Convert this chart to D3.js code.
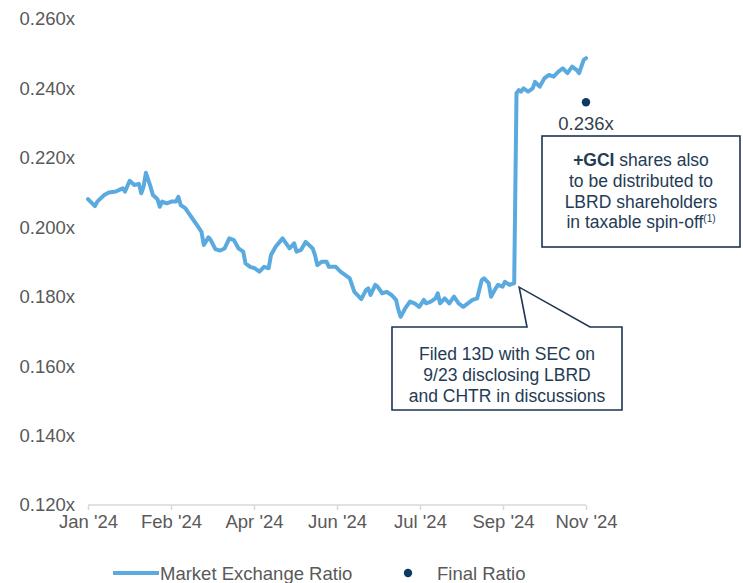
<!DOCTYPE html>
<html>
<head>
<meta charset="utf-8">
<script src="https://cdn.jsdelivr.net/npm/d3@7"></script>
<style>
  html, body { margin: 0; padding: 0; background: #fff; }
  svg { display: block; font-family: "Liberation Sans", Arial, sans-serif; }
</style>
</head>
<body>
<svg id="chart" width="743" height="583"></svg>
<script>
// ---- data (trading-day index from Jan 2, 2024 and market exchange ratio) ----
const dayIndex = [0,3,4,7,9,12,14,15,16,18,20,22,23,24,25,27,28,30,31,32,34,36,38,39,40,42,43,45,47,49,50,52,53,55,57,59,61,63,65,67,68,70,72,74,76,78,79,81,84,86,87,89,90,92,94,97,98,99,101,103,104,107,109,112,113,115,117,118,120,121,122,124,125,127,129,131,133,134,135,137,139,141,143,145,146,148,150,151,152,154,156,158,160,162,164,166,168,170,171,173,174,176,177,179,180,182,184,185,186,187,188,190,192,193,195,197,199,201,203,205,207,209,211,212,214,215];
const ratio = [0.2081,0.2061,0.2074,0.2093,0.2100,0.2103,0.2109,0.2112,0.2103,0.2134,0.2122,0.2125,0.2098,0.2117,0.2157,0.2117,0.2093,0.2081,0.2059,0.2074,0.2069,0.2074,0.2074,0.2088,0.2064,0.2055,0.2045,0.2026,0.2007,0.1987,0.1949,0.1971,0.1963,0.1937,0.1933,0.1939,0.1968,0.1963,0.1939,0.1930,0.1896,0.1886,0.1882,0.1872,0.1886,0.1882,0.1920,0.1944,0.1968,0.1949,0.1939,0.1954,0.1930,0.1935,0.1958,0.1939,0.1920,0.1891,0.1901,0.1901,0.1886,0.1886,0.1872,0.1858,0.1853,0.1814,0.1800,0.1793,0.1819,0.1824,0.1805,0.1834,0.1829,0.1810,0.1814,0.1805,0.1791,0.1762,0.1742,0.1767,0.1786,0.1781,0.1771,0.1791,0.1781,0.1786,0.1795,0.1810,0.1781,0.1795,0.1781,0.1800,0.1781,0.1771,0.1781,0.1791,0.1795,0.1848,0.1853,0.1839,0.1800,0.1824,0.1834,0.1829,0.1843,0.1834,0.1839,0.2386,0.2395,0.2391,0.2400,0.2391,0.2400,0.2419,0.2405,0.2429,0.2439,0.2434,0.2448,0.2458,0.2444,0.2463,0.2453,0.2444,0.2482,0.2487];
const lastDay = 215;
const finalRatio = 0.236;
const xTickLabels = ["Jan '24","Feb '24","Apr '24","Jun '24","Jul '24","Sep '24","Nov '24"];
const yTicks = [0.12,0.14,0.16,0.18,0.20,0.22,0.24,0.26];
const legendLabels = ["Market Exchange Ratio","Final Ratio"];
const callout1Lines = ["Filed 13D with SEC on","9/23 disclosing LBRD","and CHTR in discussions"];
const callout2Lines = ["shares also","to be distributed to","LBRD shareholders","in taxable spin-off"];

const lineColor = "#5aaae0";
const navy = "#0d3a63";
const grayText = "#595959";
const calloutText = "#243b55";

const svg = d3.select("#chart");

const x = d3.scaleLinear().domain([0, lastDay]).range([88, 586]);
const xCat = d3.scalePoint().domain(xTickLabels).range([88, 586]);
const y = d3.scaleLinear().domain([0.12, 0.26]).range([505, 19]);

// y axis labels
const yAxis = d3.axisLeft(y).tickValues(yTicks).tickSize(0).tickPadding(0)
  .tickFormat(d => d.toFixed(3) + "x");
const gy = svg.append("g").attr("transform", "translate(75,0)").call(yAxis);
gy.select(".domain").remove();
gy.selectAll("text").attr("fill", grayText).style("font-size", "18.5px")
  .style("font-family", '"Liberation Sans", Arial, sans-serif');

// x axis
const xAxis = d3.axisBottom(xCat).tickSize(5).tickPadding(5);
const gx = svg.append("g").attr("transform", "translate(0,505)").call(xAxis);
gx.select(".domain").attr("stroke", "#d9d9d9").attr("stroke-width", 1.5)
  .attr("d", "M88,0H586");
gx.selectAll(".tick line").attr("stroke", "#d9d9d9").attr("stroke-width", 1.5);
gx.selectAll("text").attr("fill", grayText).style("font-size", "18.5px")
  .style("font-family", '"Liberation Sans", Arial, sans-serif');

// line
const pts = dayIndex.map((d, i) => [d, ratio[i]]);
const line = d3.line().x(d => x(d[0])).y(d => y(d[1]));
svg.append("path").datum(pts)
  .attr("d", line)
  .attr("fill", "none")
  .attr("stroke", lineColor)
  .attr("stroke-width", 4)
  .attr("stroke-linejoin", "round")
  .attr("stroke-linecap", "round");

// final ratio dot + label
svg.append("circle").attr("cx", x(lastDay)).attr("cy", y(finalRatio)).attr("r", 4.2).attr("fill", navy);
svg.append("text").attr("x", x(lastDay)).attr("y", y(finalRatio) + 28)
  .attr("text-anchor", "middle").attr("fill", "#333f4f").style("font-size", "18.5px")
  .text(finalRatio.toFixed(3) + "x");

// callout 1 (pointer to the jump)
const jumpDay = 184;
const tipX = x(jumpDay) + 5, tipY = y(ratio[dayIndex.indexOf(jumpDay)]) + 4;
const b1 = {l: 392, r: 622, t: 327, b: 410};
svg.append("path")
  .attr("d", `M${b1.l},${b1.t}H527L${tipX},${tipY}L590,${b1.t}H${b1.r}V${b1.b}H${b1.l}Z`)
  .attr("fill", "#fff").attr("stroke", "#1d3452").attr("stroke-width", 1.6)
  .attr("stroke-linejoin", "miter");
svg.append("g").selectAll("text").data(callout1Lines).join("text")
  .attr("x", (b1.l + b1.r) / 2)
  .attr("y", (d, i) => 360 + i * 20.8)
  .attr("text-anchor", "middle").attr("fill", calloutText).style("font-size", "17.5px")
  .text(d => d);

// callout 2 (box)
const b2 = {l: 542, r: 740, t: 136, b: 247};
svg.append("rect").attr("x", b2.l).attr("y", b2.t).attr("width", b2.r - b2.l).attr("height", b2.b - b2.t)
  .attr("fill", "#fff").attr("stroke", "#1d3452").attr("stroke-width", 1.6);
const c2 = svg.append("g").attr("fill", calloutText).style("font-size", "17.5px");
callout2Lines.forEach((d, i) => {
  const t = c2.append("text").attr("x", (b2.l + b2.r) / 2).attr("y", 166 + i * 20.8)
    .attr("text-anchor", "middle");
  if (i === 0) {
    t.append("tspan").attr("font-weight", "bold").text("+GCI ");
    t.append("tspan").text(d);
  } else if (i === 3) {
    t.append("tspan").text(d);
    t.append("tspan").attr("dy", -6).style("font-size", "10px").text("(1)");
  } else {
    t.text(d);
  }
});

// legend
const lg = svg.append("g");
lg.append("line").attr("x1", 113).attr("x2", 159).attr("y1", 573).attr("y2", 573)
  .attr("stroke", lineColor).attr("stroke-width", 4);
lg.append("text").attr("x", 160).attr("y", 579.5).attr("fill", grayText).style("font-size", "18.5px").text(legendLabels[0]);
lg.append("circle").attr("cx", 408).attr("cy", 573).attr("r", 4.2).attr("fill", navy);
lg.append("text").attr("x", 437).attr("y", 579.5).attr("fill", grayText).style("font-size", "18.5px").text(legendLabels[1]);
</script>
</body>
</html>
